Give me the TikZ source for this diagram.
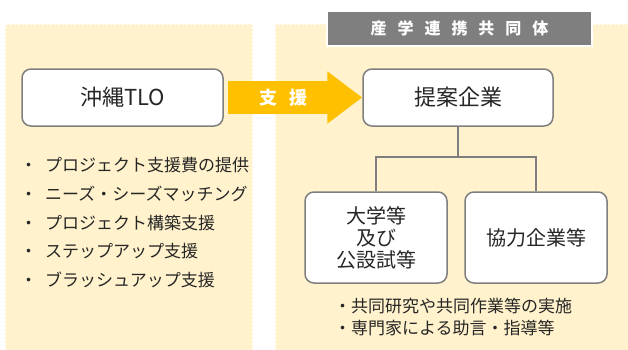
\documentclass[tikz,border=0pt]{standalone}
\usepackage{fontspec}
\setmainfont{Noto Sans CJK JP}
\newfontfamily\widefont[WordSpace=3]{Noto Sans CJK JP}
\definecolor{panelcream}{HTML}{FFF2CC}
\definecolor{supportyellow}{HTML}{FFC000}
\definecolor{framegray}{HTML}{7F7F7F}
\definecolor{inkgray}{HTML}{262626}
\usetikzlibrary{arrows.meta,positioning}

\tikzset{
    panel/.style={fill=panelcream, draw=panelcream, line width=2pt, dash pattern=on 2pt off 2pt},
    headbar/.style={fill=framegray, draw=white, line width=1.5pt, minimum width=265pt, minimum height=35pt,
        text=white, font=\widefont\bfseries\fontsize{16}{16}\selectfont},
    roundbox/.style={draw=framegray, fill=white, line width=1.5pt, rounded corners=9pt,
        text=inkgray, align=center},
    support/.style={draw=supportyellow, line width=33pt, shorten <=4pt, -{Triangle[length=35pt,width=50pt]}},
    link/.style={draw=framegray, line width=1.5pt},
    listitem/.style={anchor=west, inner sep=0pt, text=inkgray, font=\fontsize{17}{20}\selectfont}
}

\begin{document}
\begin{tikzpicture}[x=1pt, y=-1pt]
    \useasboundingbox (0,0) rectangle (628,349);
    % panels
    \path[panel] (6,25) rectangle (252,353);
    \path[panel] (276,25) rectangle (633,353);
    \node[headbar] (consortium) at (459.5,28.5) {産 学 連 携 共 同 体};

    % boxes
    \node[roundbox, minimum width=201pt, minimum height=57pt, font=\fontsize{22}{26}\selectfont] (tlo) at (122.5,97.5) {沖縄TLO};
    \node[roundbox, minimum width=190pt, minimum height=57pt, font=\fontsize{22}{26}\selectfont] (teian) at (458,97.5) {提案企業};
    \node[roundbox, minimum width=142pt, minimum height=91pt, font=\fontsize{20}{22}\selectfont] (univ) at (376,237.5) {大学等\\及び\\公設試等};
    \node[roundbox, minimum width=142pt, minimum height=91pt, font=\fontsize{20}{22}\selectfont] (partner) at (536,237.5) {協力企業等};

    % support arrow
    \draw[support] (tlo.east) -- node[pos=0.43, text=white, font=\widefont\bfseries\fontsize{18}{18}\selectfont] {支 援} (teian.west);

    % tree
    \draw[link] (teian.south) -- ++(0,30) -| (univ.north);
    \draw[link] (teian.south) -- ++(0,30) -| (partner.north);

    % TLO services
    \foreach \entry [count=\i] in {プロジェクト支援費の提供, ニーズ・シーズマッチング, プロジェクト構築支援, ステップアップ支援, ブラッシュアップ支援}
        \node[listitem] (service\i) at (20,136.5+28.7*\i) {\makebox[25pt][l]{・}\entry};

    % joint activities
    \node[listitem, align=left, font=\fontsize{17}{22}\selectfont] (activities) at (334,317) {・共同研究や共同作業等の実施\\・専門家による助言・指導等};
\end{tikzpicture}
\end{document}
